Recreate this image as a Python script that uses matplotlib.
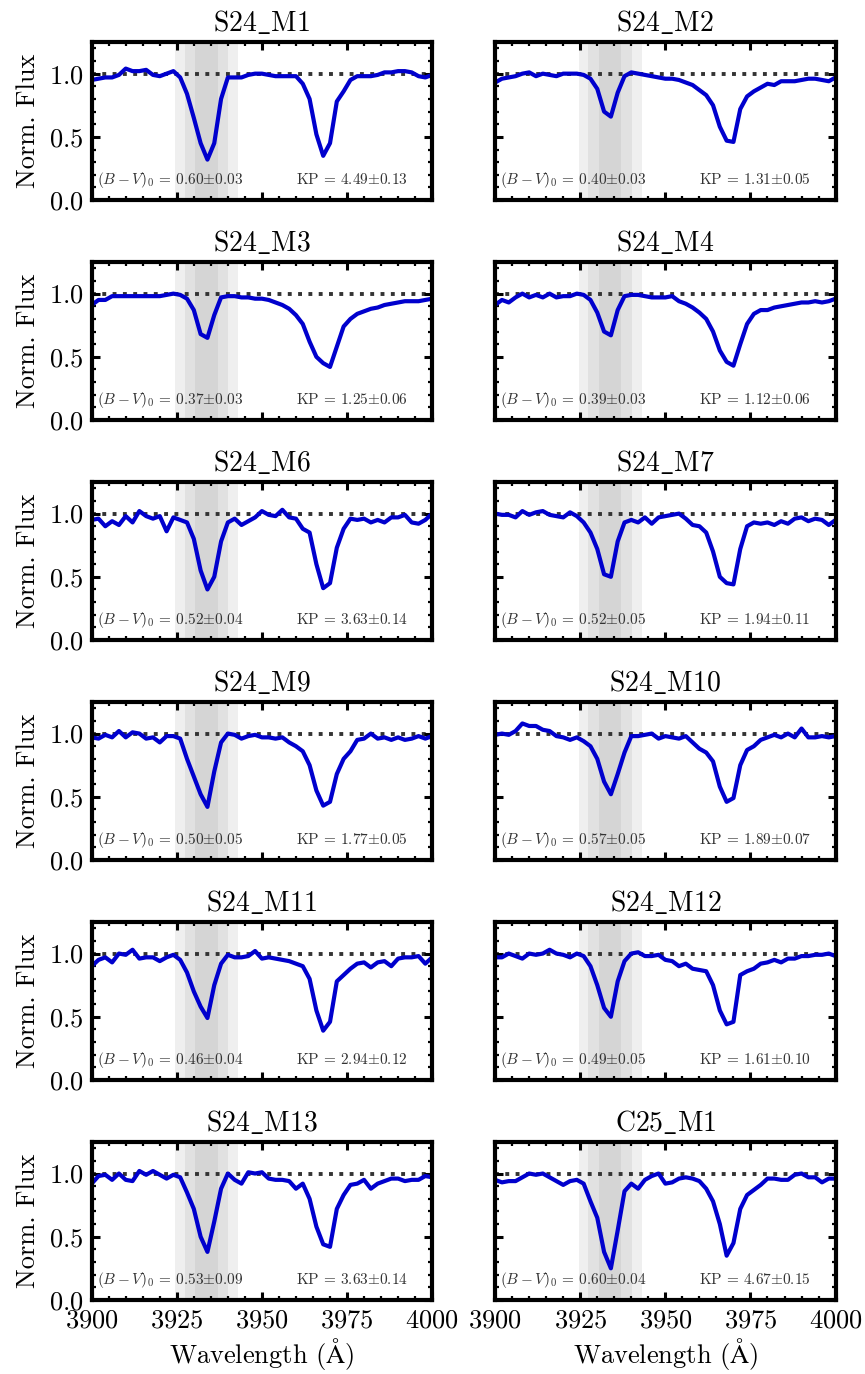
import numpy as np
import matplotlib
matplotlib.use('Agg')
import matplotlib.pyplot as plt
from matplotlib.ticker import MultipleLocator

plt.rcParams['font.family'] = 'serif'
plt.rcParams['font.serif'] = ['cmr10']
plt.rcParams['mathtext.fontset'] = 'cm'
plt.rcParams['axes.formatter.use_mathtext'] = True

# wavelength grid (Angstrom), 2 A sampling
wave = np.arange(3900, 4001, 2)

names = ['S24_M1', 'S24_M2', 'S24_M3', 'S24_M4', 'S24_M6', 'S24_M7',
         'S24_M9', 'S24_M10', 'S24_M11', 'S24_M12', 'S24_M13', 'C25_M1']
bv = ['0.60', '0.40', '0.37', '0.39', '0.52', '0.52', '0.50', '0.57', '0.46', '0.49', '0.53', '0.60']
bv_err = ['0.03', '0.03', '0.03', '0.03', '0.04', '0.05', '0.05', '0.05', '0.04', '0.05', '0.09', '0.04']
kp = ['4.49', '1.31', '1.25', '1.12', '3.63', '1.94', '1.77', '1.89', '2.94', '1.61', '3.63', '4.67']
kp_err = ['0.13', '0.05', '0.06', '0.06', '0.14', '0.11', '0.05', '0.07', '0.12', '0.10', '0.14', '0.15']

flux_m1 = [0.95, 0.96, 0.97, 0.97, 0.99, 1.04, 1.02, 1.02, 1.03, 0.99, 0.98, 1.00, 1.02,
           0.97, 0.84, 0.65, 0.45, 0.32, 0.45, 0.80, 0.97, 0.97, 0.97, 0.99, 1.00, 1.00,
           0.99, 0.98, 0.98, 0.98, 0.98, 0.92, 0.80, 0.52, 0.35, 0.45, 0.78, 0.86, 0.95,
           0.98, 0.98, 0.98, 0.99, 1.01, 1.01, 1.02, 1.02, 1.01, 0.98, 0.97, 0.99]
flux_m2 = [0.93, 0.96, 0.97, 0.98, 1.00, 1.01, 0.98, 1.00, 0.99, 0.98, 1.00, 1.00, 1.00,
           0.99, 0.96, 0.88, 0.70, 0.66, 0.85, 0.98, 1.01, 1.00, 0.99, 0.98, 0.97, 0.96,
           0.96, 0.95, 0.93, 0.91, 0.87, 0.83, 0.75, 0.58, 0.47, 0.46, 0.72, 0.82, 0.86,
           0.89, 0.92, 0.91, 0.94, 0.94, 0.94, 0.95, 0.96, 0.96, 0.95, 0.94, 0.97]
flux_m3 = [0.91, 0.95, 0.95, 0.98, 0.98, 0.98, 0.98, 0.98, 0.98, 0.98, 0.98, 0.99, 1.00,
           0.99, 0.96, 0.87, 0.68, 0.65, 0.83, 0.97, 0.98, 0.98, 0.97, 0.97, 0.96, 0.96,
           0.95, 0.93, 0.91, 0.88, 0.83, 0.76, 0.62, 0.50, 0.45, 0.42, 0.58, 0.74, 0.80,
           0.84, 0.86, 0.88, 0.89, 0.91, 0.92, 0.93, 0.94, 0.94, 0.94, 0.95, 0.96]
flux_m4 = [0.91, 0.95, 0.93, 0.97, 1.00, 0.97, 0.99, 0.97, 1.00, 0.97, 0.98, 0.98, 1.00,
           0.99, 0.95, 0.85, 0.70, 0.67, 0.87, 0.98, 0.99, 0.99, 0.98, 0.97, 0.97, 0.97,
           0.98, 0.94, 0.92, 0.89, 0.85, 0.80, 0.70, 0.55, 0.46, 0.43, 0.60, 0.76, 0.84,
           0.87, 0.87, 0.89, 0.90, 0.91, 0.92, 0.93, 0.93, 0.94, 0.93, 0.94, 0.96]
flux_m6 = [0.95, 0.96, 0.90, 0.94, 0.91, 0.98, 0.93, 1.02, 0.98, 0.96, 0.98, 0.86, 0.97,
           0.95, 0.93, 0.80, 0.55, 0.40, 0.50, 0.78, 0.93, 0.96, 0.91, 0.94, 0.97, 1.02,
           0.99, 0.98, 1.03, 0.97, 0.96, 0.88, 0.85, 0.60, 0.41, 0.45, 0.73, 0.88, 0.96,
           0.95, 0.96, 0.93, 0.95, 0.93, 0.97, 0.97, 0.99, 0.93, 0.92, 0.95, 1.00]
flux_m7 = [1.00, 0.99, 0.99, 0.97, 1.02, 0.99, 1.01, 1.02, 0.99, 0.98, 0.97, 1.01, 0.98,
           0.93, 0.85, 0.72, 0.52, 0.50, 0.78, 0.93, 0.95, 0.93, 0.97, 0.92, 0.97, 0.98,
           0.99, 1.00, 0.96, 0.91, 0.90, 0.85, 0.70, 0.50, 0.45, 0.44, 0.72, 0.90, 0.93,
           0.92, 0.93, 0.91, 0.94, 0.92, 0.96, 0.97, 0.94, 0.96, 0.95, 0.91, 0.95]
flux_m9 = [0.97, 0.96, 0.99, 0.97, 1.02, 0.97, 1.01, 1.00, 0.96, 0.97, 0.93, 0.98, 0.98,
           0.96, 0.80, 0.66, 0.52, 0.42, 0.70, 0.93, 1.00, 0.99, 0.96, 0.98, 0.99, 0.97,
           0.97, 0.96, 0.97, 0.93, 0.90, 0.86, 0.75, 0.55, 0.43, 0.46, 0.68, 0.80, 0.86,
           0.95, 0.96, 1.00, 0.96, 0.97, 0.95, 0.97, 0.95, 0.96, 0.98, 0.96, 0.98]
flux_m10 = [0.99, 1.00, 0.99, 1.02, 1.08, 1.06, 1.06, 1.03, 1.02, 0.98, 0.97, 0.95, 0.97,
            0.94, 0.90, 0.80, 0.62, 0.52, 0.68, 0.85, 0.98, 0.98, 0.99, 1.00, 0.96, 0.98,
            0.97, 0.96, 0.98, 0.93, 0.88, 0.85, 0.78, 0.58, 0.46, 0.49, 0.75, 0.87, 0.90,
            0.95, 0.97, 0.99, 0.97, 1.00, 0.97, 1.04, 0.97, 0.97, 0.98, 0.97, 0.98]
flux_m11 = [0.90, 0.95, 0.97, 0.93, 1.00, 0.99, 1.03, 0.96, 0.97, 0.97, 0.94, 0.97, 0.99,
            0.95, 0.85, 0.70, 0.58, 0.49, 0.75, 0.92, 0.99, 0.97, 0.97, 0.98, 1.02, 0.96,
            0.97, 0.96, 0.95, 0.94, 0.92, 0.90, 0.80, 0.55, 0.39, 0.46, 0.78, 0.83, 0.88,
            0.92, 0.93, 0.89, 0.93, 0.94, 0.90, 0.96, 0.97, 0.97, 0.98, 0.92, 0.97]
flux_m12 = [0.97, 0.97, 1.00, 0.98, 0.96, 1.00, 0.99, 1.00, 1.03, 1.00, 0.99, 0.97, 1.00,
            0.98, 0.90, 0.75, 0.57, 0.50, 0.78, 0.94, 1.00, 1.01, 0.98, 0.98, 0.99, 0.95,
            0.94, 0.90, 0.92, 0.88, 0.87, 0.86, 0.75, 0.55, 0.44, 0.46, 0.83, 0.86, 0.88,
            0.92, 0.93, 0.95, 0.93, 0.96, 0.96, 0.98, 0.98, 0.99, 0.99, 1.00, 0.98]
flux_m13 = [0.92, 0.98, 0.99, 0.95, 1.00, 0.95, 0.94, 1.02, 0.99, 1.02, 0.99, 0.96, 0.99,
            0.97, 0.85, 0.72, 0.50, 0.38, 0.62, 0.88, 1.00, 0.95, 0.92, 1.01, 1.00, 1.01,
            0.96, 0.95, 0.95, 0.94, 0.88, 0.92, 0.80, 0.58, 0.44, 0.42, 0.72, 0.83, 0.91,
            0.92, 0.95, 0.88, 0.92, 0.94, 0.96, 0.96, 0.94, 0.95, 0.95, 0.98, 0.97]
flux_c25 = [0.95, 0.93, 0.94, 0.94, 0.97, 1.00, 0.99, 1.00, 0.97, 0.94, 0.91, 0.94, 0.95,
            0.92, 0.78, 0.65, 0.38, 0.25, 0.55, 0.86, 0.92, 0.88, 0.95, 0.98, 1.00, 0.92,
            0.93, 0.96, 0.97, 0.96, 0.94, 0.88, 0.78, 0.60, 0.35, 0.45, 0.72, 0.83, 0.87,
            0.91, 0.96, 0.96, 0.95, 0.95, 0.99, 1.00, 0.97, 0.97, 0.93, 0.96, 0.96]

fluxes = [flux_m1, flux_m2, flux_m3, flux_m4, flux_m6, flux_m7,
          flux_m9, flux_m10, flux_m11, flux_m12, flux_m13, flux_c25]

# K-line integration windows around 3933.7 A
bands = [(3924.6, 3943.0), (3927.4, 3940.1), (3930.4, 3937.1)]

fig, axes = plt.subplots(6, 2, figsize=(8.65, 13.74), dpi=100)
plt.subplots_adjust(left=0.106, right=0.966, top=0.9694, bottom=0.0539,
                    wspace=0.185, hspace=0.392)

for i, ax in enumerate(axes.flat):
    for lo, hi in bands:
        ax.axvspan(lo, hi, color='gray', alpha=0.12, lw=0, zorder=0)
    ax.axhline(1.0, color='#333333', ls=':', lw=2.8, zorder=1)
    ax.plot(wave, fluxes[i], color='mediumblue', lw=3.0, zorder=2)

    ax.set_xlim(3900, 4000)
    ax.set_ylim(0, 1.25)
    ax.xaxis.set_major_locator(MultipleLocator(25))
    ax.xaxis.set_minor_locator(MultipleLocator(5))
    ax.yaxis.set_major_locator(MultipleLocator(0.5))
    ax.yaxis.set_minor_locator(MultipleLocator(0.1))
    ax.tick_params(which='both', direction='in', top=True, right=True)
    ax.tick_params(which='major', length=6, width=2.2, labelsize=19, pad=6)
    ax.tick_params(which='minor', length=3, width=1.6)
    for sp in ax.spines.values():
        sp.set_linewidth(3)

    ax.set_title(r'$\mathrm{%s}$' % names[i].replace('_', r'\_'), fontsize=20, pad=8)

    ax.text(0.015, 0.10, r'$(B-V)_0$ = %s$\pm$%s' % (bv[i], bv_err[i]),
            transform=ax.transAxes, fontsize=11, color='0.2', va='baseline')
    ax.text(0.60, 0.10, r'KP = %s$\pm$%s' % (kp[i], kp_err[i]),
            transform=ax.transAxes, fontsize=11, color='0.2', va='baseline')

    if i % 2 == 0:
        ax.set_ylabel('Norm. Flux', fontsize=19, labelpad=6)
    else:
        ax.set_yticklabels([])
    if i < 10:
        ax.set_xticklabels([])
    else:
        ax.set_xlabel(r'Wavelength ($\mathrm{\AA}$)', fontsize=19, labelpad=3)

fig.savefig('out.png', dpi=100)
